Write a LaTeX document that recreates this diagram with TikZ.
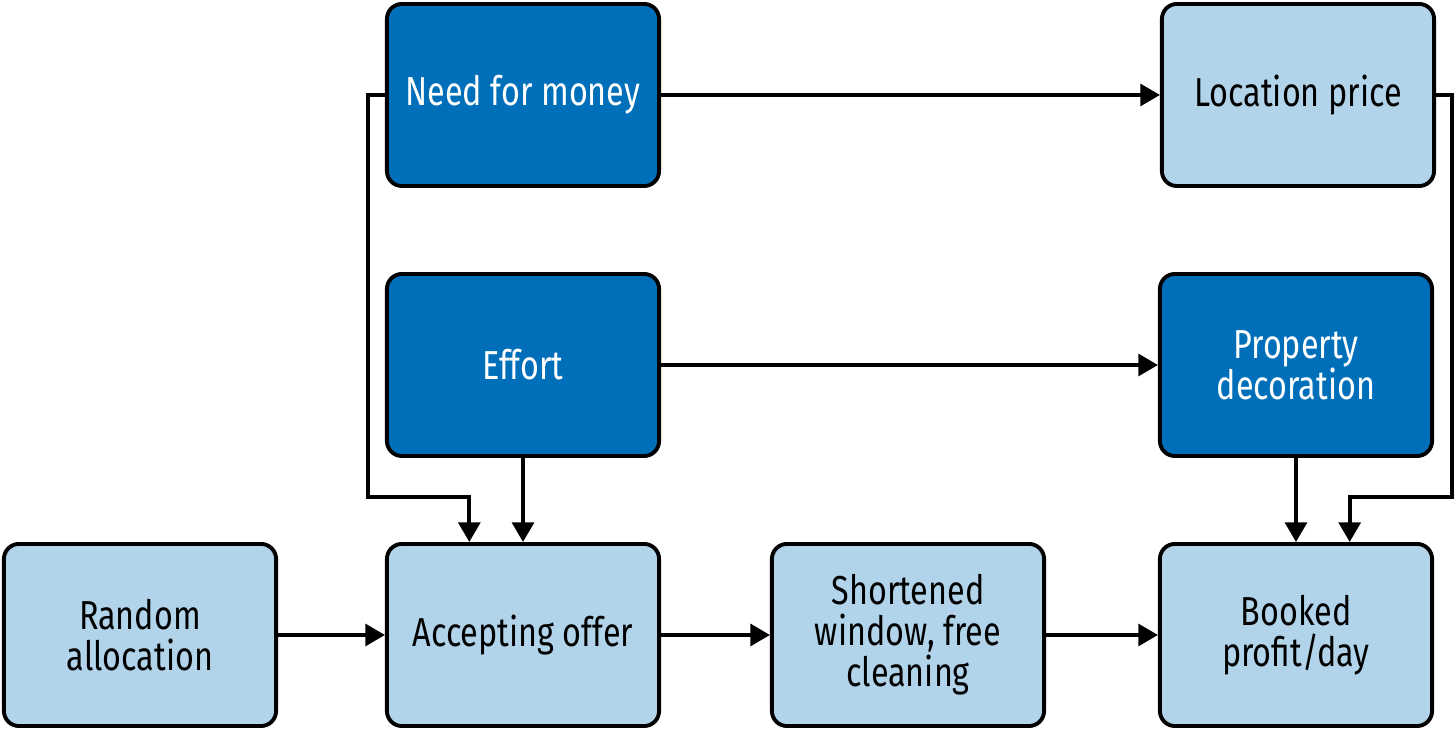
\documentclass[tikz,border=0pt]{standalone}
\usepackage{fontspec}
\setmainfont{Fira Sans}[FakeStretch=0.8]
\usepackage{tikz}
\usepackage{xcolor}
\usetikzlibrary{arrows.meta}
\definecolor{darkbox}{HTML}{006FBA}
\definecolor{lightbox}{HTML}{B1D4EA}

\begin{document}
\begin{tikzpicture}[x=0.01cm,y=-0.01cm,
    box/.style={draw=black,line width=1.1pt,rounded corners=0.15cm,
        minimum width=2.72cm,minimum height=1.82cm,align=center,
        font=\fontsize{11.5}{11.7}\selectfont},
    dark/.style={box,fill=darkbox,text=white},
    light/.style={box,fill=lightbox,text=black},
    arr/.style={line width=1.1pt,-{Triangle[length=5.6pt,width=6.2pt]}}]
\useasboundingbox (0,0) rectangle (1456,731);
\path
    (523,95) node [dark] (money) {Need for money}
    (1298,95) node [light] (location) {Location price}
    (523,365) node [dark] (effort) {Effort}
    (1296,365) node [dark] (decoration) {Property\\decoration}
    (140,635) node [light] (random) {Random\\allocation}
    (523,635) node [light] (accepting) {Accepting offer}
    (908,635) node [light] (shortened) {Shortened\\window, free\\cleaning}
    (1296,635) node [light] (booked) {Booked\\profit/day};
\draw [arr] (money) -- (location);
\draw [arr] (effort) -- (decoration);
\draw [arr] (money.west) -- ++(-17,0) -- ++(0,402) -| (accepting.120);
\draw [arr] (effort) -- (accepting);
\draw [arr] (location.east) -- ++(16,0) -- ++(0,402) -| (booked.60);
\draw [arr] (decoration) -- (booked);
\draw [arr] (random) -- (accepting);
\draw [arr] (accepting) -- (shortened);
\draw [arr] (shortened) -- (booked);
\end{tikzpicture}
\end{document}
